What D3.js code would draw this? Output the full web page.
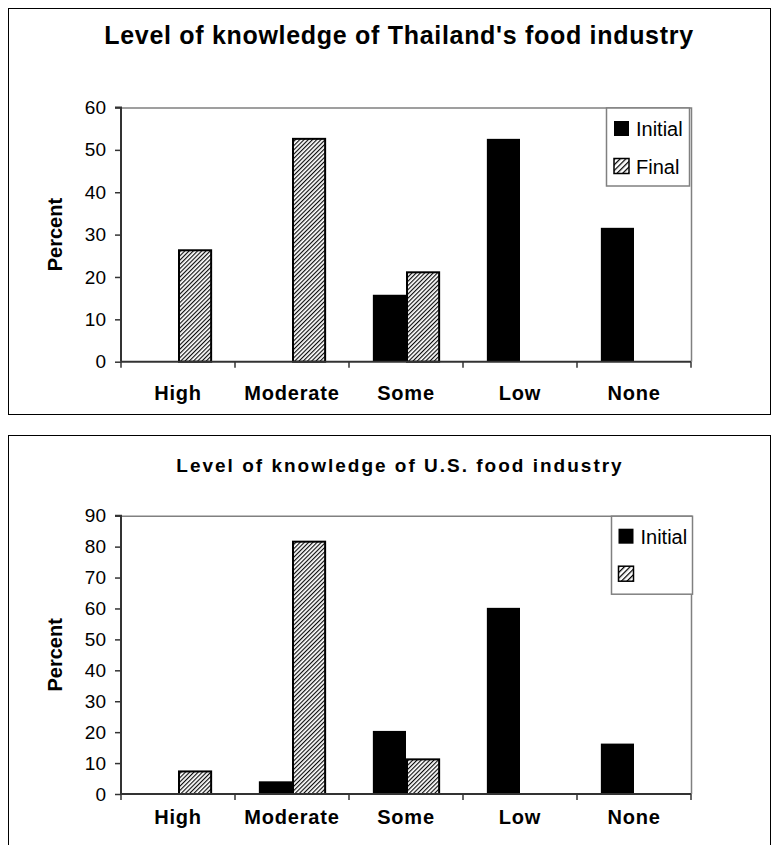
<!DOCTYPE html>
<html><head><meta charset="utf-8">
<script src="https://cdn.jsdelivr.net/npm/d3@7"></script>
<style>
html,body{margin:0;padding:0;background:#fff;}
svg{display:block;font-family:"Liberation Sans",Arial,sans-serif;}
</style></head>
<body>
<svg id="chart" width="780" height="845"></svg>
<script>
// ---- data ----
const categories = ["High", "Moderate", "Some", "Low", "None"];
const seriesNames = ["Initial", "Final"];
const thaiTitle = "Level of knowledge of Thailand's food industry";
const thaiInitial = [0, 0, 15.8, 52.6, 31.6];
const thaiFinal = [26.3, 52.6, 21.1, 0, 0];
const thaiTicks = [0, 10, 20, 30, 40, 50, 60];
const thaiLegend = ["Initial", "Final"];
const usTitle = "Level of knowledge of U.S. food industry";
const usInitial = [0, 4.1, 20.4, 60.2, 16.3];
const usFinal = [7.3, 81.6, 11.2, 0, 0];
const usTicks = [0, 10, 20, 30, 40, 50, 60, 70, 80, 90];
const usLegend = ["Initial", ""];
const yLabel = "Percent";

const svg = d3.select("#chart");
const defs = svg.append("defs");
function hatch(id, gap, w) {
  const p = defs.append("pattern").attr("id", id)
    .attr("patternUnits", "userSpaceOnUse")
    .attr("width", gap).attr("height", gap)
    .attr("patternTransform", "rotate(45)");
  p.append("rect").attr("width", gap).attr("height", gap).attr("fill", "#fff");
  p.append("line").attr("x1", 0.6).attr("y1", 0).attr("x2", 0.6).attr("y2", gap)
    .attr("stroke", "#000").attr("stroke-width", w);
}
hatch("hatchBar", 3, 1.1);
hatch("hatchLeg", 4, 1.3);

function drawChart(cfg) {
  const g = svg.append("g");
  // outer frame
  g.append("rect").attr("x", cfg.box[0] + 0.5).attr("y", cfg.box[1] + 0.5)
    .attr("width", cfg.box[2]).attr("height", cfg.box[3])
    .attr("fill", "none").attr("stroke", "#000").attr("stroke-width", 1);

  const x0 = d3.scaleBand().domain(categories).range([cfg.left, cfg.right]).padding(0);
  const x1 = d3.scaleBand().domain(seriesNames).range([0, x0.bandwidth()])
    .paddingInner(0).paddingOuter(0.72);
  const y = d3.scaleLinear().domain([0, d3.max(cfg.ticks)]).range([cfg.bottom, cfg.top]);

  // title
  g.append("text").attr("x", cfg.titleX).attr("y", cfg.titleY)
    .attr("text-anchor", "middle").attr("font-weight", "bold")
    .attr("font-size", cfg.titleSize).attr("letter-spacing", cfg.titleSpacing)
    .text(cfg.title);

  // plot area border (top/right)
  g.append("path")
    .attr("d", `M${cfg.left},${cfg.top + 0.5}H${cfg.right + 0.5}V${cfg.bottom}`)
    .attr("fill", "none").attr("stroke", "#808080").attr("stroke-width", 1.5);

  // bars
  const rows = categories.map((c, i) => ({cat: c, vals: [
    {s: "Initial", v: cfg.initial[i]}, {s: "Final", v: cfg.final[i]}]}));
  const grp = g.selectAll("g.cat").data(rows).join("g")
    .attr("transform", d => `translate(${x0(d.cat)},0)`);
  grp.selectAll("rect").data(d => d.vals.filter(e => e.v > 0)).join("rect")
    .attr("x", d => x1(d.s) + (d.s === "Final" ? 1 : 0))
    .attr("width", d => x1.bandwidth() - (d.s === "Final" ? 1 : 0))
    .attr("y", d => y(d.v))
    .attr("height", d => cfg.bottom - y(d.v))
    .attr("fill", d => d.s === "Initial" ? "#000" : "url(#hatchBar)")
    .attr("stroke", d => d.s === "Initial" ? "none" : "#000")
    .attr("stroke-width", 2);

  // y axis
  const yAxis = d3.axisLeft(y).tickValues(cfg.ticks).tickSize(6).tickPadding(9)
    .tickFormat(d3.format("d"));
  const ya = g.append("g").attr("transform", `translate(${cfg.left},0)`).call(yAxis);
  ya.select(".domain").attr("stroke", "#333").attr("stroke-width", 2)
    .attr("d", `M-6,${cfg.top}H0V${cfg.bottom}`);
  ya.selectAll(".tick line").attr("stroke", "#333").attr("stroke-width", 1.5);
  ya.selectAll(".tick text").attr("font-size", 19).attr("fill", "#000")
    .attr("font-family", "Liberation Sans, Arial, sans-serif");

  // x axis baseline + boundary ticks
  const xa = g.append("g");
  xa.append("line").attr("x1", cfg.left).attr("x2", cfg.right)
    .attr("y1", cfg.bottom).attr("y2", cfg.bottom)
    .attr("stroke", "#333").attr("stroke-width", 2);
  const bounds = categories.map(c => x0(c)).concat([cfg.right]);
  xa.selectAll("line.tk").data(bounds).join("line").attr("class", "tk")
    .attr("x1", d => d).attr("x2", d => d)
    .attr("y1", cfg.bottom).attr("y2", cfg.bottom + 6)
    .attr("stroke", "#333").attr("stroke-width", 1.5);
  xa.selectAll("text").data(categories).join("text")
    .attr("x", d => x0(d) + x0.bandwidth() / 2)
    .attr("y", cfg.xLabelY).attr("text-anchor", "middle")
    .attr("font-weight", "bold").attr("font-size", 20).attr("letter-spacing", 0.8)
    .text(d => d);

  // y label
  g.append("text").attr("transform", `translate(${cfg.yLabelX},${(cfg.top + cfg.bottom) / 2}) rotate(-90)`)
    .attr("text-anchor", "middle").attr("font-weight", "bold").attr("font-size", 20)
    .text(yLabel);

  // legend
  const L = cfg.legend;
  g.append("rect").attr("x", L.x + 0.5).attr("y", L.y + 0.5).attr("width", L.w).attr("height", L.h)
    .attr("fill", "#fff").attr("stroke", "#808080").attr("stroke-width", 1.5);
  const li = g.selectAll("g.leg").data(cfg.legendLabels).join("g")
    .attr("transform", (d, i) => `translate(${L.x + L.sx},${L.y + L.sy + i * 37.5})`);
  li.append("rect").attr("width", 15).attr("height", 15)
    .attr("fill", (d, i) => i === 0 ? "#000" : "url(#hatchLeg)")
    .attr("stroke", "#000").attr("stroke-width", (d, i) => i === 0 ? 0 : 1.5);
  li.append("text").attr("x", 22).attr("y", 15).attr("font-size", 20).text(d => d);
}

drawChart({
  box: [8, 8, 762, 406], left: 121, right: 691, top: 107.5, bottom: 361.7,
  title: thaiTitle, titleX: 399, titleY: 43.5, titleSize: 25, titleSpacing: 0.7,
  initial: thaiInitial, final: thaiFinal, ticks: thaiTicks, xLabelY: 400, yLabelX: 62,
  legend: {x: 606, y: 107.5, w: 83, h: 78, sx: 8, sy: 13.5}, legendLabels: thaiLegend
});
drawChart({
  box: [8, 435, 762, 440], left: 121, right: 691, top: 515.7, bottom: 794,
  title: usTitle, titleX: 400, titleY: 472, titleSize: 19, titleSpacing: 2,
  initial: usInitial, final: usFinal, ticks: usTicks, xLabelY: 824, yLabelX: 62,
  legend: {x: 611, y: 515.7, w: 81, h: 78, sx: 7.5, sy: 13}, legendLabels: usLegend
});
</script>
</body></html>
